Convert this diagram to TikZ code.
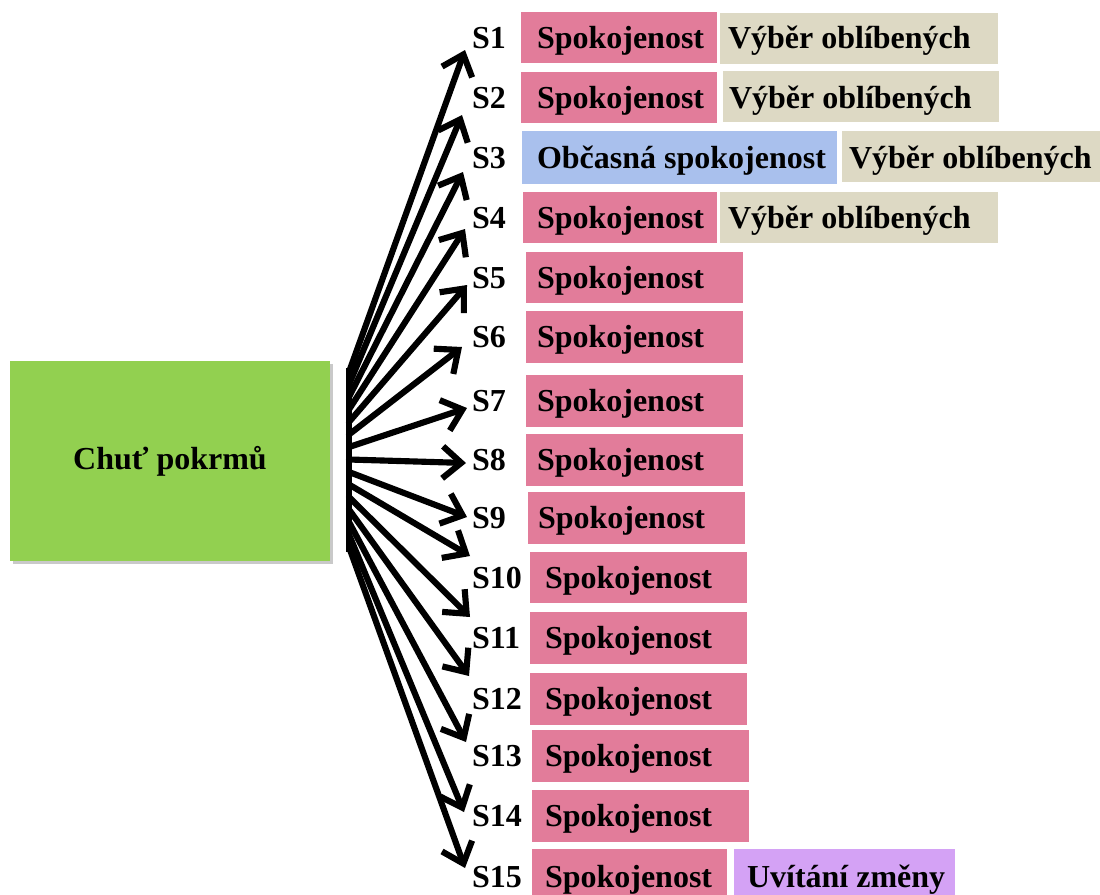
\documentclass[tikz,border=0pt]{standalone}
\usepackage{fontspec}
\setmainfont{Liberation Serif}
\usetikzlibrary{arrows.meta,shadows}
\definecolor{cpink}{RGB}{226,124,154}
\definecolor{cbeige}{RGB}{221,217,196}
\definecolor{cblue}{RGB}{169,192,237}
\definecolor{cpurple}{RGB}{212,162,245}
\definecolor{cgreen}{RGB}{146,208,80}
\newcommand\rbox[6]{%
  \node[rbx, fill=#6, minimum width={(#4-#2)*0.75pt}, minimum height={(#5-#3)*0.75pt}, anchor=north west] (#1) at (#2,#3) {};}
\begin{document}
\begin{tikzpicture}[x=0.75pt,y=-0.75pt,
  rbx/.style={draw=none, inner sep=0pt, outer sep=0pt},
  lbl/.style={inner sep=0pt, outer sep=0pt, font=\fontsize{24}{28}\selectfont\bfseries},
  arr/.style={line width=4.6pt, -{Straight Barb[length=14pt,width=24pt]}, line cap=round},
]
\useasboundingbox (0,0) rectangle (1100,894);
% green source box
\node[rbx, fill=cgreen, minimum width={320*0.75pt}, minimum height={200*0.75pt}, anchor=north west,
  drop shadow={shadow xshift=2pt, shadow yshift=-2.5pt, opacity=0.3, fill=black!70}] (src) at (10,361) {};
\node[lbl] (srct) at (src.center) {Chuť pokrmů};
% vertical bar
\coordinate (vtop) at (349,368);
\coordinate (vbot) at (349,552);
\draw[line width=5pt] (vtop) -- (vbot);
% rows: boxes
\rbox{b1}{521}{12}{717}{63}{cpink}
\rbox{c1}{720}{13}{998}{64}{cbeige}
\rbox{b2}{521}{72}{717}{123}{cpink}
\rbox{c2}{723}{71}{999}{122}{cbeige}
\rbox{b3}{522}{131}{837}{184}{cblue}
\rbox{c3}{842}{131}{1100}{182}{cbeige}
\rbox{b4}{523}{192}{717}{243}{cpink}
\rbox{c4}{720}{192}{998}{243}{cbeige}
\rbox{b5}{526}{252}{743}{303}{cpink}
\rbox{b6}{526}{311}{743}{363}{cpink}
\rbox{b7}{526}{375}{743}{427}{cpink}
\rbox{b8}{526}{434}{743}{486}{cpink}
\rbox{b9}{528}{492}{745}{544}{cpink}
\rbox{b10}{530}{552}{747}{603}{cpink}
\rbox{b11}{530}{612}{747}{664}{cpink}
\rbox{b12}{530}{673}{747}{725}{cpink}
\rbox{b13}{532}{730}{749}{782}{cpink}
\rbox{b14}{532}{790}{749}{842}{cpink}
\rbox{b15}{532}{849}{727}{896}{cpink}
\rbox{c15}{734}{849}{955}{896}{cpurple}
% box texts
\node[lbl, anchor=base west] (tb1) at (537,48) {Spokojenost};
\node[lbl, anchor=base west] (tc1) at (728,48) {Výběr oblíbených};
\node[lbl, anchor=base west] (tb2) at (537,108) {Spokojenost};
\node[lbl, anchor=base west] (tc2) at (729,108) {Výběr oblíbených};
\node[lbl, anchor=base west] (tb3) at (537,168) {Občasná spokojenost};
\node[lbl, anchor=base west] (tc3) at (849,168) {Výběr oblíbených};
\node[lbl, anchor=base west] (tb4) at (537,228) {Spokojenost};
\node[lbl, anchor=base west] (tc4) at (728,228) {Výběr oblíbených};
\node[lbl, anchor=base west] (tb5) at (537,288) {Spokojenost};
\node[lbl, anchor=base west] (tb6) at (537,347.5) {Spokojenost};
\node[lbl, anchor=base west] (tb7) at (537,411.5) {Spokojenost};
\node[lbl, anchor=base west] (tb8) at (537,470.5) {Spokojenost};
\node[lbl, anchor=base west] (tb9) at (538,528.5) {Spokojenost};
\node[lbl, anchor=base west] (tb10) at (545,588) {Spokojenost};
\node[lbl, anchor=base west] (tb11) at (545,648.5) {Spokojenost};
\node[lbl, anchor=base west] (tb12) at (545,709.5) {Spokojenost};
\node[lbl, anchor=base west] (tb13) at (545,766.5) {Spokojenost};
\node[lbl, anchor=base west] (tb14) at (545,826.5) {Spokojenost};
\node[lbl, anchor=base west] (tb15) at (545,887) {Spokojenost};
\node[lbl, anchor=base west] (tc15) at (747,887) {Uvítání změny};
% S labels
\foreach \i/\yb in {1/48,2/108,3/168,4/228,5/288,6/347.5,7/411.5,8/470.5,9/528.5,10/588,11/648.5,12/709.5,13/766.5,14/826.5,15/887}{
  \node[lbl, anchor=base west] (s\i) at (472,\yb) {S\i};
}
% arrow origins and tips
\foreach \i/\tx/\ty in {1/465/50,2/462/115,3/463/172,4/465/229,5/467/285,6/462/347,7/467/408,8/466/463,9/467/517,10/470/556,11/470/617,12/469/676,13/466/742,14/464/812,15/465/868}{
  \coordinate (o\i) at (349,{372+(\i-1)*12.5});
  \coordinate (p\i) at (\tx,\ty);
  \draw[arr] (o\i) -- (p\i);
}
\end{tikzpicture}
\end{document}
